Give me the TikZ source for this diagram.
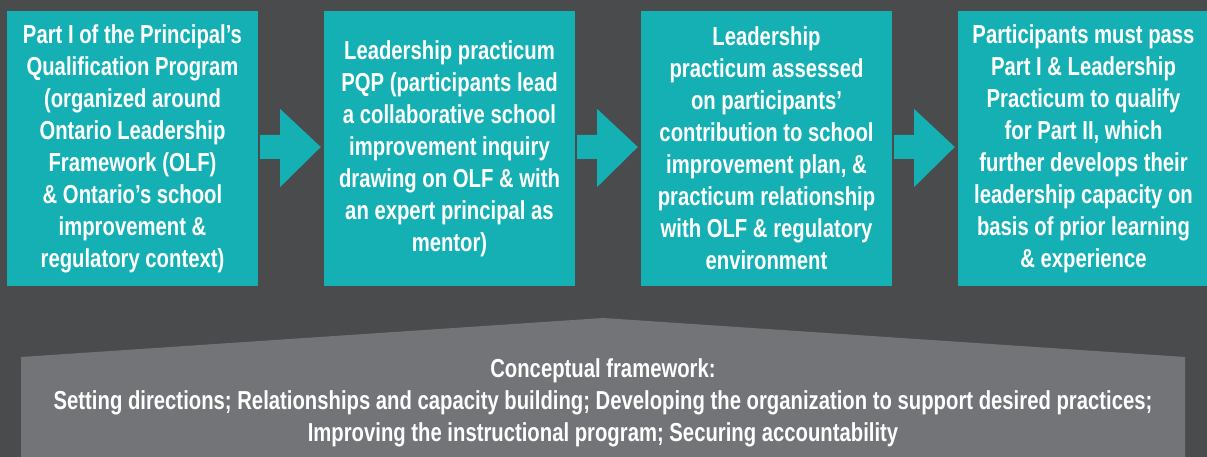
\documentclass[tikz,border=0pt]{standalone}
\usepackage{fontspec}
\setmainfont{Liberation Sans}[FakeStretch=0.78]
\usetikzlibrary{calc}
\definecolor{pqpteal}{RGB}{20,176,180}
\definecolor{slate}{RGB}{74,75,77}
\definecolor{stone}{RGB}{115,116,120}
\tikzstyle{stage}=[rectangle,fill=pqpteal,text=white,minimum width=251pt,minimum height=275pt,inner sep=0pt,align=center,font=\fontsize{26}{32}\selectfont\bfseries]
\tikzstyle{flow} = [fill=pqpteal]
\tikzstyle{base} = [fill=stone]
\tikzstyle{basetext} = [text=white,align=center,font=\fontsize{26}{32}\selectfont\bfseries]

\begin{document}
\begin{tikzpicture}[x=1pt,y=-1pt]
    \clip (0,0) rectangle (1207,457);
    \fill[slate] (0,0) rectangle (1207,457);

    % First we draw the four stages of the program
    \foreach \pos/ \name/ \txt in {
        {(132.5,148.5)/A/{Part I of the Principal's\\Qualification Program\\(organized around\\Ontario Leadership\\Framework (OLF)\\\& Ontario's school\\improvement \&\\regulatory context)}},
        {(449.5,148.5)/B/{Leadership practicum\\PQP (participants lead\\a collaborative school\\improvement inquiry\\drawing on OLF \& with\\an expert principal as\\mentor)}},
        {(766.5,148.5)/C/{Leadership\\practicum assessed\\on participants'\\contribution to school\\improvement plan, \&\\practicum relationship\\with OLF \& regulatory\\environment}},
        {(1083.5,148.5)/D/{Participants must pass\\Part I \& Leadership\\Practicum to qualify\\for Part II, which\\further develops their\\leadership capacity on\\basis of prior learning\\\& experience}}}
        \node[stage] (\name) at \pos {\txt};

    % Block arrows from one stage to the next
    \foreach \source/ \dest in {A/B, B/C, C/D}
        \fill[flow] ($(\source.east)+(2,-13.5)$) -- ($(\source.east)+(22,-13.5)$)
            -- ($(\source.east)+(22,-39.5)$) -- ($(\dest.west)+(-3,-1.5)$)
            -- ($(\source.east)+(22,38.5)$) -- ($(\source.east)+(22,10.5)$)
            -- ($(\source.east)+(2,10.5)$) -- cycle;

    % The framework underneath, a house-shaped panel
    \fill[base] (21,470) -- (21,357) -- (603,318) -- (1185,357) -- (1185,470) -- cycle;
    \node[basetext] (frame) at (603,403) {Conceptual framework:\\Setting directions; Relationships and capacity building; Developing the organization to support desired practices;\\Improving the instructional program; Securing accountability};
\end{tikzpicture}
\end{document}
